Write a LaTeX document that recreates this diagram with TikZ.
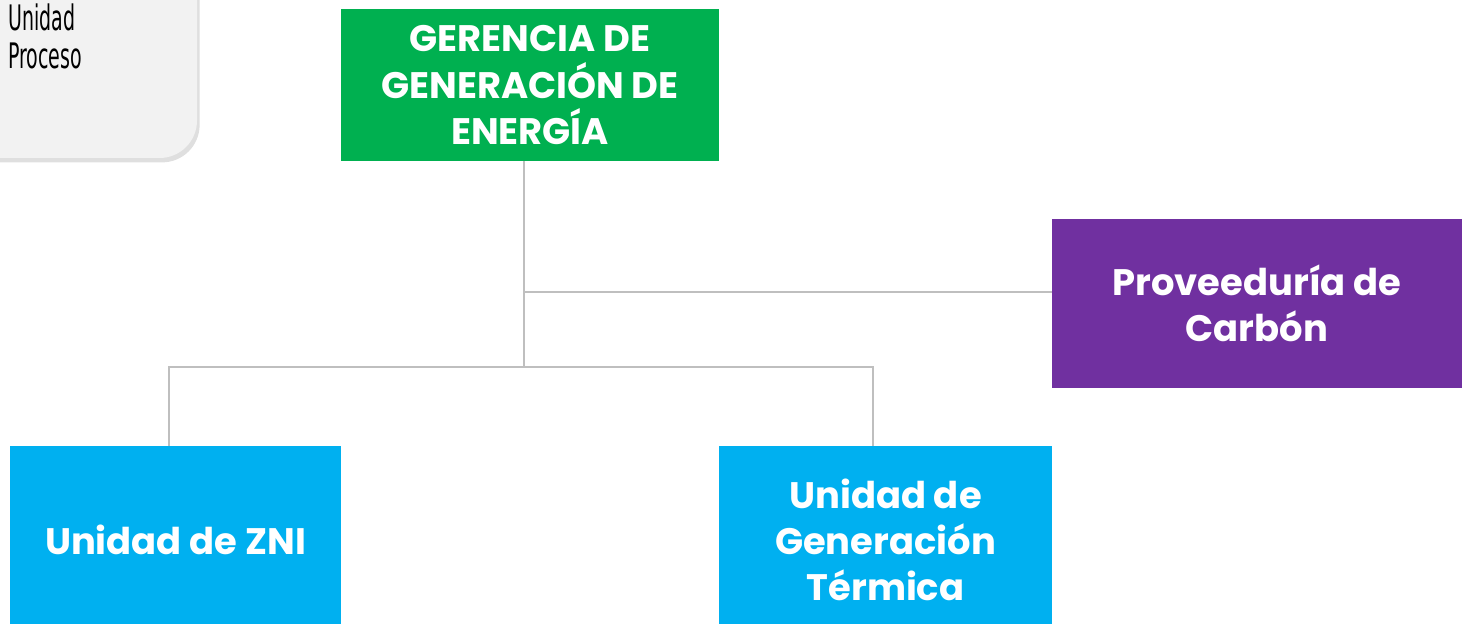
\documentclass[tikz,border=0pt]{standalone}
\usepackage{fontspec}
\usepackage{tikz}
\usetikzlibrary{positioning,shadows}
\newfontfamily\cajafont{Poppins}
\newfontfamily\leyfont{DejaVu Sans}[FakeStretch=0.54]
\definecolor{verde}{HTML}{00B050}
\definecolor{morado}{HTML}{7030A0}
\definecolor{celeste}{HTML}{00B0F0}
\definecolor{gris}{HTML}{F2F2F2}
\definecolor{linea}{HTML}{BFBFBF}
\tikzset{
  caja/.style={inner sep=0pt, text=white, align=center,
    font=\cajafont\bfseries\fontsize{21}{26.3}\selectfont},
  conector/.style={draw=linea, line width=0.9pt},
}

\begin{document}
\begin{tikzpicture}[x=0.02cm,y=-0.02cm]
			%%%%% START %%%%%
			\useasboundingbox (0,0) rectangle (1462,624);
			\clip (0,0) rectangle (1462,624);
			
			% leyenda
			\fill[gris, drop shadow={shadow xshift=1.5pt, shadow yshift=-2.5pt, opacity=0.25}]
			  (-30,-30) -- (197,-30) [rounded corners=0.75cm] -- (197,158) [sharp corners] -- (-30,158) -- cycle;
			\node[anchor=north west, inner sep=0pt, align=left,
			  font=\leyfont\fontsize{20}{21.8}\selectfont] (leyenda) at (8,3) {Unidad\\Proceso};
			
			% cajas
			\node[caja, fill=verde, minimum width=378*0.02cm, minimum height=152*0.02cm] (gerencia)
			  at (530,85) {GERENCIA DE\\GENERACIÓN DE\\ENERGÍA};
			\node[caja, fill=morado, minimum width=410*0.02cm, minimum height=169*0.02cm] (carbon)
			  at (1257,303.5) {Proveeduría de\\Carbón};
			\node[caja, fill=celeste, minimum width=331*0.02cm, minimum height=188*0.02cm] (zni)
			  at (175.5,540) {Unidad de ZNI};
			\node[caja, fill=celeste, minimum width=333*0.02cm, minimum height=188*0.02cm] (termica)
			  at (885.5,540) {Unidad de\\Generación\\Térmica};
			
			% conectores
			\coordinate (rama) at (524,292);
			\coordinate (bus) at (524,367);
			\draw[conector] (gerencia.south -| bus) -- (bus);
			\draw[conector] (rama) -- (rama -| carbon.west);
			\draw[conector] (zni.north -| 169,0) -- (169,367) -- (873,367) -- (termica.north -| 873,0);
			
			%%%%% END %%%%%
		\end{tikzpicture}
\end{document}
